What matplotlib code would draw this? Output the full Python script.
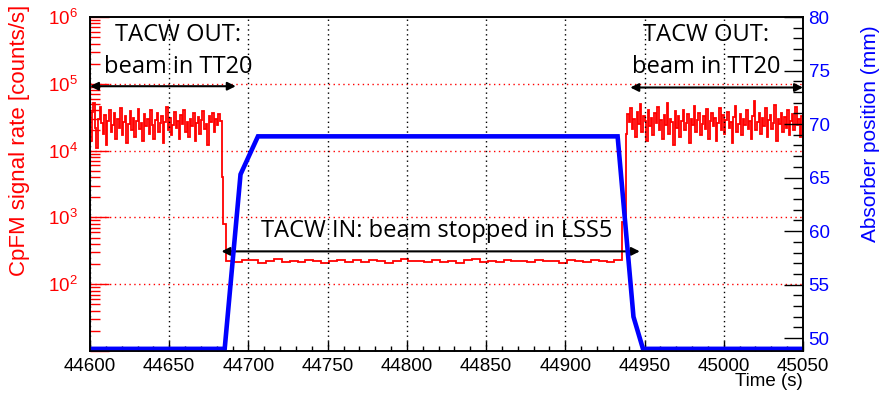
import numpy as np
import matplotlib
matplotlib.use("Agg")
import matplotlib.pyplot as plt
from matplotlib.ticker import MultipleLocator, LogLocator, FuncFormatter, NullFormatter

plt.rcParams['font.family'] = ['Liberation Sans', 'DejaVu Sans']
plt.rcParams['mathtext.default'] = 'regular'

# CpFM rate, 1 s bins before insertion (x1e3 counts/s), from t=44600
rate_before = [14, 38, 52, 22, 11, 30, 45, 26, 18, 34,
               12, 28, 41, 19, 24, 36, 15, 30, 22, 44,
               17, 27, 33, 13, 25, 39, 20, 31, 16, 28,
               42, 21, 26, 14, 35, 23, 30, 18, 40, 24,
               15, 29, 37, 19, 26, 33, 13, 27, 45, 20,
               31, 17, 24, 38, 22, 28, 15, 34, 25, 41,
               19, 27, 16, 30, 23, 36, 14, 26, 32, 18,
               29, 39, 21, 25, 12, 33, 27, 37, 19, 30,
               24, 35, 28]
# falling edge (counts/s)
drop_edges = [44683, 44684, 44686]
rate_drop = [4000, 800]
# TACW in, 5 s bins from t=44686 (counts/s)
rate_in = [225, 215, 232, 228, 210, 222, 236, 218, 226, 212,
           230, 221, 208, 224, 233, 217, 227, 214, 229, 220,
           211, 226, 238, 219, 223, 213, 231, 216, 225, 209,
           228, 235, 218, 222, 214, 230, 220, 226, 212, 234,
           219, 224, 210, 229, 221, 217, 232, 223, 215, 228]
# rising edge
rise_edges = [44936, 44938]
rate_rise = [850]
# after extraction, 1 s bins from t=44938 (x1e3 counts/s)
rate_after = [18, 35, 27, 44, 21, 30, 16, 38, 25, 49,
              19, 33, 28, 14, 40, 23, 31, 17, 36, 26,
              45, 20, 29, 15, 34, 24, 52, 18, 30, 27,
              12, 39, 22, 33, 16, 28, 41, 20, 26, 35,
              13, 30, 24, 47, 19, 29, 37, 17, 25, 33,
              21, 42, 15, 28, 36, 23, 31, 14, 26, 44,
              20, 34, 18, 29, 38, 22, 27, 13, 32, 46,
              19, 25, 35, 17, 30, 24, 40, 21, 28, 15,
              33, 55, 20, 27, 36, 18, 31, 23, 43, 16,
              29, 34, 21, 26, 48, 14, 30, 25, 37, 19,
              32, 22, 41, 17, 28, 35, 20, 45, 24, 30,
              16, 33]

# absorber position
pos_time = [44600, 44685, 44695, 44706, 44933, 44943, 44949, 45050]
pos_mm = [49.0, 49.0, 65.3, 68.85, 68.85, 52.0, 49.0, 49.0]

before_edges = 44600 + np.arange(len(rate_before) + 1)
in_edges = 44686 + 5 * np.arange(len(rate_in) + 1)
after_edges = 44938 + np.arange(len(rate_after) + 1)

edges = np.concatenate([before_edges, drop_edges[1:], in_edges[1:],
                        rise_edges[1:], after_edges[1:]])
values = np.concatenate([np.array(rate_before) * 1e3, rate_drop, rate_in,
                         rate_rise, np.array(rate_after) * 1e3])

fig = plt.figure(figsize=(8.8, 3.94), dpi=100)
ax = fig.add_axes([90 / 880, 1 - 351 / 394, 713 / 880, 334 / 394])
ax2 = ax.twinx()

ax.stairs(values, edges, color='red', lw=1.3, baseline=None)
ax.set_yscale('log')
ax.set_ylim(10, 1e6)
ax.set_xlim(44600, 45050)


def log_label(v, p):
    k = round(np.log10(v))
    if k < 2:
        return ''
    return r'$10^{%d}$' % k


ax.xaxis.set_major_locator(MultipleLocator(50))
ax.xaxis.set_minor_locator(MultipleLocator(10))
ax.yaxis.set_major_locator(LogLocator(base=10))
ax.yaxis.set_minor_locator(LogLocator(base=10, subs=np.arange(2, 10)))
ax.yaxis.set_minor_formatter(NullFormatter())
ax.yaxis.set_major_formatter(FuncFormatter(log_label))

ax.tick_params(axis='x', which='major', direction='in', length=7, width=1,
               labelsize=13.5, pad=5, top=False)
ax.tick_params(axis='x', which='minor', direction='in', length=3.5, width=1, top=False)
ax.tick_params(axis='y', which='major', direction='in', length=14, width=1,
               color='red', labelcolor='red', labelsize=13.5, pad=9)
ax.tick_params(axis='y', which='minor', direction='in', length=7, width=1, color='red')

ax.xaxis.grid(True, which='major', color='black', ls=(0, (1, 2.5)), lw=1)
for d in [1e2, 1e3, 1e4, 1e5]:
    ax.axhline(d, color='red', ls=(0, (1, 2.5)), lw=1, zorder=1)

ax2.plot(pos_time, pos_mm, color='#0000ff', lw=3.3, solid_joinstyle='miter')
ax2.set_ylim(48.8, 80)
ax2.yaxis.set_major_locator(MultipleLocator(5))
ax2.yaxis.set_minor_locator(MultipleLocator(1))
ax2.tick_params(axis='y', which='major', direction='in', length=14, width=1,
                color='black', labelcolor='#0000ff', labelsize=13.5, pad=4)
ax2.tick_params(axis='y', which='minor', direction='in', length=7, width=1, color='black')

for sp in ax.spines.values():
    sp.set_linewidth(1.2)
for sp in ax2.spines.values():
    sp.set_linewidth(1.2)

# annotations
arrow_kw = dict(arrowstyle='<|-|>', color='black', lw=1.5, mutation_scale=12,
                shrinkA=0, shrinkB=0)
ax.annotate('', xy=(44600, 9.2e4), xytext=(44692, 9.2e4), arrowprops=arrow_kw,
            annotation_clip=False)
ax.annotate('', xy=(44941, 8.8e4), xytext=(45050, 8.8e4), arrowprops=arrow_kw,
            annotation_clip=False)
ax.annotate('', xy=(44683, 310), xytext=(44947, 310), arrowprops=arrow_kw)

txt_kw = dict(family=['Open Sans', 'DejaVu Sans'], fontsize=17, color='black',
              ha='center', va='center', multialignment='center', linespacing=1.45)
fig.text(178 / 880, 1 - 51 / 394, 'TACW OUT:\nbeam in TT20', **txt_kw)
fig.text(706 / 880, 1 - 51 / 394, 'TACW OUT:\nbeam in TT20', **txt_kw)
fig.text(437 / 880, 1 - 231 / 394, 'TACW IN: beam stopped in LSS5', **txt_kw)

fig.text(20 / 880, 1 - 5 / 394, 'CpFM signal rate [counts/s]', rotation=90,
         ha='center', va='top', color='red', fontsize=16)
fig.text(870 / 880, 1 - 25 / 394, 'Absorber position (mm)', rotation=90,
         ha='center', va='top', color='#0000ff', fontsize=15)
fig.text(803 / 880, 1 - 382 / 394, 'Time (s)', ha='right', va='center', fontsize=13.5)

fig.savefig('out.png', dpi=100)
